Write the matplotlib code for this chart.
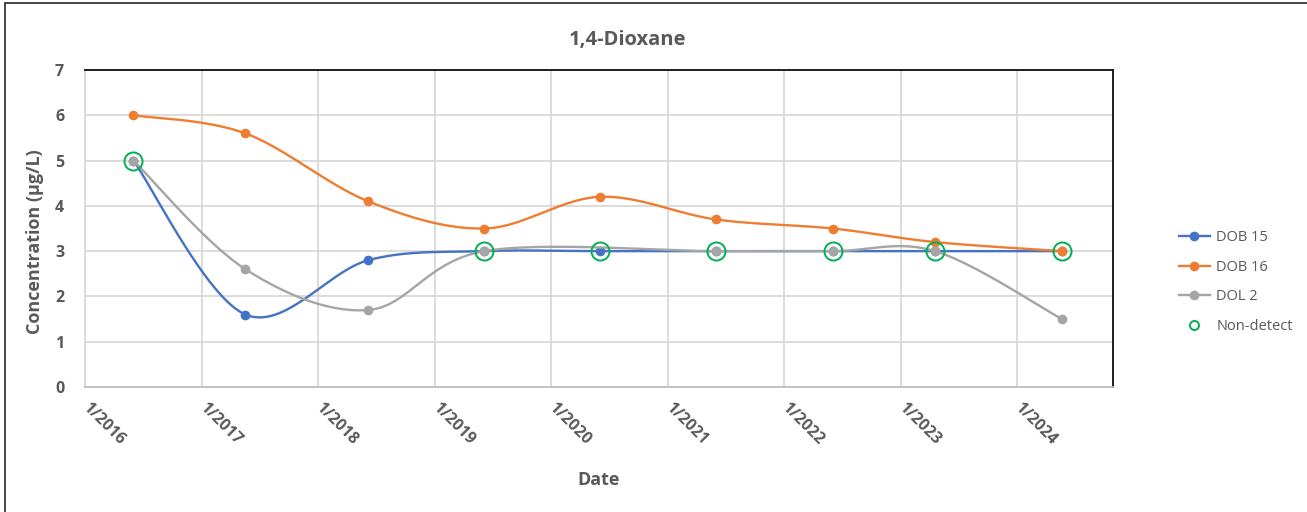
import datetime as dt

import numpy as np
import matplotlib
matplotlib.use("Agg")
import matplotlib.pyplot as plt
import matplotlib.dates as mdates
from matplotlib.lines import Line2D
from matplotlib.patches import Rectangle

# ---- data -------------------------------------------------------------
sample_dates = ["2016-06-01", "2017-05-18", "2018-06-07", "2019-06-06", "2020-06-02",
                "2021-06-01", "2022-06-02", "2023-04-19", "2024-05-21"]
dob15 = [5.0, 1.6, 2.8, 3.0, 3.0, 3.0, 3.0, 3.0, 3.0]
dob16 = [6.0, 5.6, 4.1, 3.5, 4.2, 3.7, 3.5, 3.2, 3.0]
dol2 = [5.0, 2.6, 1.7, 3.0, None, 3.0, 3.0, 3.0, 1.5]
non_detect = [5.0, None, None, 3.0, 3.0, 3.0, 3.0, 3.0, 3.0]

tick_years = list(range(2016, 2025))
tick_labels = [f"1/{y}" for y in tick_years]
y_ticks = [0, 1, 2, 3, 4, 5, 6, 7]

# ---- styling ----------------------------------------------------------
FONT = "Open Sans"
TEXT = "#595959"
GRID = "#D9D9D9"
C_BLUE = "#4472C4"
C_ORANGE = "#ED7D31"
C_GRAY = "#A5A5A5"
C_GREEN = "#00B050"

plt.rcParams["font.family"] = [FONT, "DejaVu Sans"]


def to_num(dates):
    return mdates.date2num([dt.datetime.strptime(d, "%Y-%m-%d") for d in dates])


def pairs(dates, values):
    xs, ys = [], []
    for d, v in zip(to_num(dates), values):
        if v is not None:
            xs.append(d)
            ys.append(v)
    return np.array(xs), np.array(ys)


def smooth_curve(x, y, n=60):
    """Bezier smoothing through every point (Catmull-Rom style control points)."""
    m = len(x)
    out_x, out_y = [x[0]], [y[0]]
    t = np.linspace(0, 1, n)[1:]
    for i in range(m - 1):
        i0 = max(i - 1, 0)
        i3 = min(i + 2, m - 1)
        p0x, p0y = x[i], y[i]
        p3x, p3y = x[i + 1], y[i + 1]
        c1x = p0x + (x[i + 1] - x[i0]) / 6.0
        c1y = p0y + (y[i + 1] - y[i0]) / 6.0
        c2x = p3x - (x[i3] - x[i]) / 6.0
        c2y = p3y - (y[i3] - y[i]) / 6.0
        a = (1 - t) ** 3
        b = 3 * (1 - t) ** 2 * t
        c = 3 * (1 - t) * t ** 2
        d = t ** 3
        out_x.extend(a * p0x + b * c1x + c * c2x + d * p3x)
        out_y.extend(a * p0y + b * c1y + c * c2y + d * p3y)
    return np.array(out_x), np.array(out_y)


fig = plt.figure(figsize=(13.07, 5.12), dpi=100)
fig.patch.set_facecolor("white")

# chart border
fig.add_artist(Rectangle((5 / 1307, -0.2), 2.0, 1.2 - 3 / 512,
                         transform=fig.transFigure, fill=False,
                         edgecolor="#262626", linewidth=1.2, clip_on=False))

ax = fig.add_axes([85 / 1307, 1 - 387 / 512, (1113 - 85) / 1307, (387 - 70) / 512])

series = [
    ("DOB 15", dob15, C_BLUE),
    ("DOB 16", dob16, C_ORANGE),
    ("DOL 2", dol2, C_GRAY),
]

MS = 7
z = 3
for name, vals, col in series:
    xs, ys = pairs(sample_dates, vals)
    sx, sy = smooth_curve(xs, ys)
    ax.plot(sx, sy, color=col, linewidth=1.7, solid_capstyle="round", zorder=z)
    ax.plot(xs, ys, linestyle="none", marker="o", markersize=MS,
            color=col, markeredgewidth=0, zorder=z + 0.5)
    z += 1

nx, ny = pairs(sample_dates, non_detect)
ax.plot(nx, ny, linestyle="none", marker="o", markersize=13,
        markerfacecolor="none", markeredgecolor=C_GREEN, markeredgewidth=1.4,
        zorder=10)

# axes limits and ticks
x_start = mdates.date2num(dt.datetime(2016, 1, 1))
x_end = mdates.date2num(dt.datetime(2024, 10, 28))
ax.set_xlim(x_start, x_end)
ax.set_ylim(0, 7)

xticks = mdates.date2num([dt.datetime(y, 1, 1) for y in tick_years])
ax.set_xticks(xticks)
ax.set_xticklabels(tick_labels)
ax.set_yticks(y_ticks)
ax.set_yticklabels([str(v) for v in y_ticks])

ax.grid(True, color=GRID, linewidth=1.3)
ax.set_axisbelow(True)
ax.tick_params(axis="both", length=0, colors=TEXT)
ax.tick_params(axis="y", pad=15)
for lab in ax.get_yticklabels():
    lab.set_fontsize(11.5)
    lab.set_fontweight("bold")
    lab.set_color(TEXT)
for lab in ax.get_xticklabels():
    lab.set_fontsize(11.5)
    lab.set_fontweight("bold")
    lab.set_color(TEXT)
    lab.set_rotation(-45)
    lab.set_rotation_mode("anchor")
    lab.set_ha("left")
    lab.set_va("center")
ax.tick_params(axis="x", pad=13)

ax.spines["top"].set_color("#1F1F1F")
ax.spines["right"].set_color("#1F1F1F")
ax.spines["top"].set_linewidth(1.4)
ax.spines["right"].set_linewidth(1.4)
ax.spines["left"].set_color(GRID)
ax.spines["bottom"].set_color("#BFBFBF")
ax.spines["left"].set_linewidth(1.3)
ax.spines["bottom"].set_linewidth(1.3)

# titles
fig.text(627 / 1307, 1 - 40 / 512, "1,4-Dioxane", ha="center", va="center",
         fontsize=14.5, fontweight="bold", color=TEXT)
fig.text(599 / 1307, 1 - 480 / 512, "Date", ha="center", va="center",
         fontsize=13, fontweight="bold", color=TEXT)
fig.text(35 / 1307, 1 - 242 / 512, "Concentration (µg/L)", ha="center", va="center",
         rotation=90, fontsize=13, fontweight="bold", color=TEXT)

# legend
handles = [
    Line2D([], [], color=C_BLUE, linewidth=1.7, marker="o", markersize=MS, markeredgewidth=0),
    Line2D([], [], color=C_ORANGE, linewidth=1.7, marker="o", markersize=MS, markeredgewidth=0),
    Line2D([], [], color=C_GRAY, linewidth=1.7, marker="o", markersize=MS, markeredgewidth=0),
    Line2D([], [], linestyle="none", marker="o", markersize=6.5, markerfacecolor="none",
           markeredgecolor=C_GREEN, markeredgewidth=1.4),
]
leg = fig.legend(handles, ["DOB 15", "DOB 16", "DOL 2", "Non-detect"],
                 loc="center left", bbox_to_anchor=(1179 / 1307, 1 - 282 / 512),
                 frameon=False, fontsize=10.5, labelcolor=TEXT,
                 handlelength=2.1, handletextpad=0.45, labelspacing=1.0,
                 borderpad=0, borderaxespad=0)

fig.savefig("out.png", dpi=100, facecolor="white")
